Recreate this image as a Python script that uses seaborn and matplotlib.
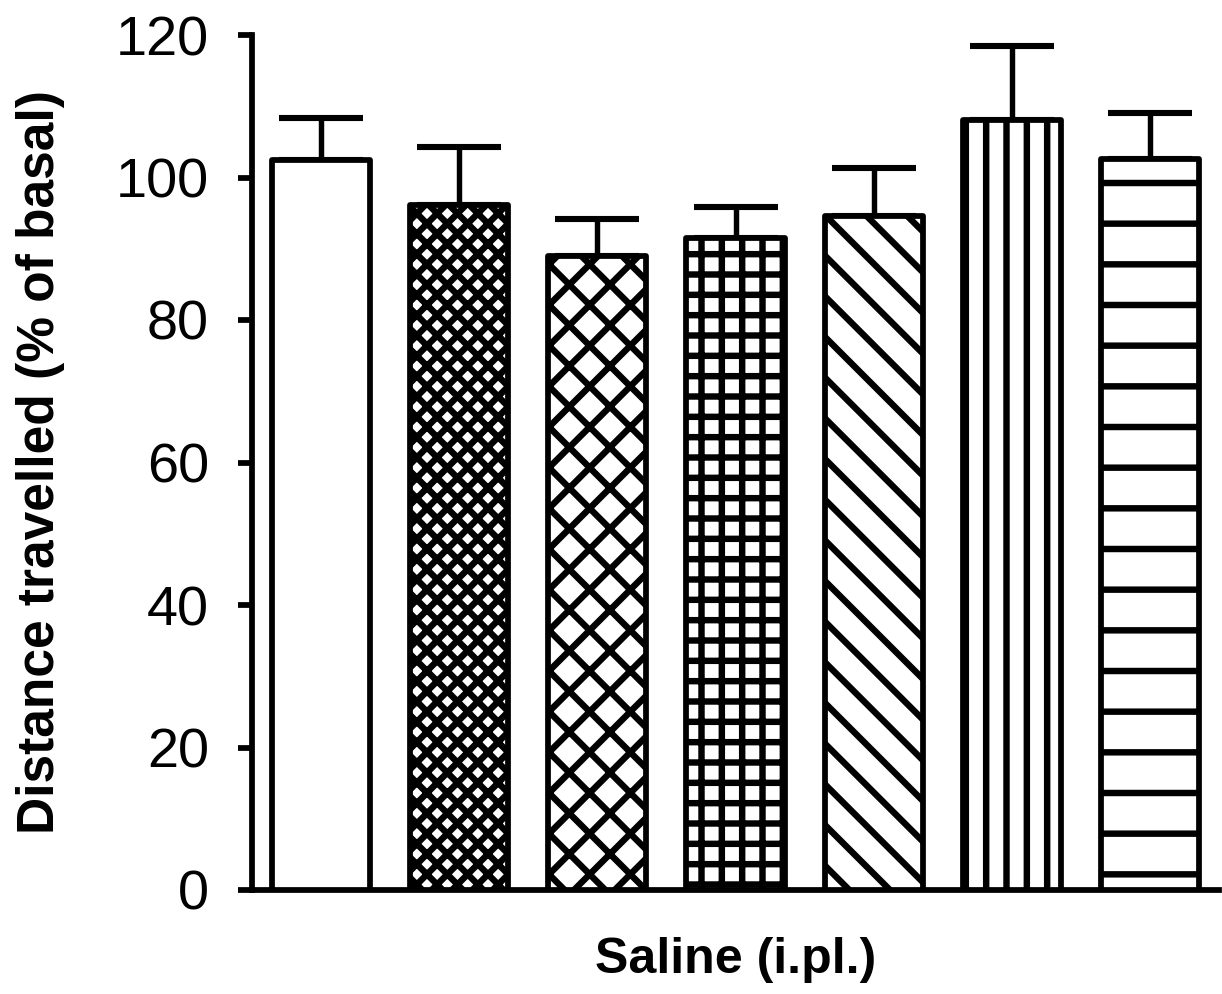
import numpy as np
import pandas as pd
import matplotlib
matplotlib.use("Agg")
import matplotlib.pyplot as plt
import seaborn as sns

# Data
groups = ["G1", "G2", "G3", "G4", "G5", "G6", "G7"]
means = [102.5, 96.1, 89.0, 91.5, 94.6, 108.1, 102.6]
sems = [5.9, 8.2, 5.2, 4.4, 6.7, 10.4, 6.5]
hatches = ["", "xxxx", "xx", "++", "\\\\", "||", "-"]
yticks = [0, 20, 40, 60, 80, 100, 120]

sns.set_style("ticks")
plt.rcParams["font.family"] = ["Liberation Sans", "DejaVu Sans"]
plt.rcParams["hatch.linewidth"] = 1.9
plt.rcParams["hatch.color"] = "black"
plt.rcParams["text.color"] = "black"
plt.rcParams["axes.labelcolor"] = "black"
plt.rcParams["xtick.color"] = "black"
plt.rcParams["ytick.color"] = "black"
plt.rcParams["xtick.labelcolor"] = "black"
plt.rcParams["ytick.labelcolor"] = "black"

DPI = 244
fig = plt.figure(figsize=(1222 / DPI, 994 / DPI), dpi=DPI)
ax = fig.add_axes([252 / 1222, 1 - 890 / 994, (1219 - 252) / 1222, (890 - 35) / 994])

df = pd.DataFrame({"group": groups, "mean": means})
sns.barplot(data=df, x="group", y="mean", color="white", edgecolor="black",
            linewidth=1.7, width=0.71, saturation=1, errorbar=None, ax=ax, zorder=3)

for patch, h in zip(ax.patches, hatches):
    patch.set_hatch(h)
    patch.set_joinstyle("round")

xpos = np.arange(len(groups))
ax.errorbar(xpos, means, yerr=[np.zeros(len(sems)), sems], fmt="none",
            ecolor="black", elinewidth=1.6, capsize=12.5, capthick=1.8, zorder=2)

ax.set_ylim(0, 120)
ax.set_xlim(-0.5, 6.5)
ax.set_yticks(yticks)
ax.set_yticklabels([str(t) for t in yticks], fontsize=16.5, color="black")
ax.set_xticks([])
ax.tick_params(axis="y", direction="out", length=4.2, width=1.7, pad=8.5, colors="black")

for side in ["top", "right"]:
    ax.spines[side].set_visible(False)
for side in ["left", "bottom"]:
    ax.spines[side].set_linewidth(1.7)
    ax.spines[side].set_color("black")

ax.set_ylabel("Distance travelled (% of basal)", fontsize=15.2, fontweight="bold",
              labelpad=15, color="black")
ax.set_xlabel("Saline (i.pl.)", fontsize=14.8, fontweight="bold", labelpad=14, color="black")

fig.savefig("out.png", dpi=DPI, facecolor="white")
